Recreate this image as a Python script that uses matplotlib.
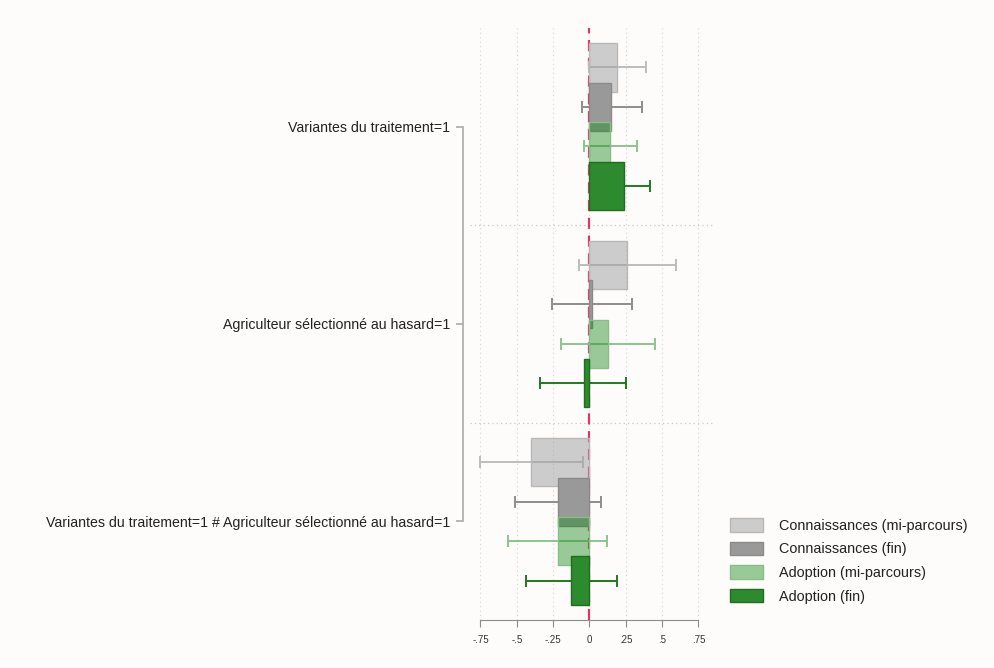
import numpy as np
import matplotlib
matplotlib.use('Agg')
import matplotlib.pyplot as plt
from matplotlib.patches import Patch

plt.rcParams['font.family'] = ['Liberation Sans', 'DejaVu Sans']

categories = ['Variantes du traitement=1',
              'Agriculteur sélectionné au hasard=1',
              'Variantes du traitement=1 # Agriculteur sélectionné au hasard=1']
series = ['Connaissances (mi-parcours)', 'Connaissances (fin)',
          'Adoption (mi-parcours)', 'Adoption (fin)']

# estimates per series, one value per category
est_km = [0.19, 0.257, -0.40]
est_kf = [0.148, 0.015, -0.218]
est_am = [0.14, 0.125, -0.215]
est_af = [0.237, -0.04, -0.127]

lo_km = [-0.005, -0.072, -0.75]
lo_kf = [-0.05, -0.26, -0.51]
lo_am = [-0.04, -0.195, -0.56]
lo_af = [0.055, -0.34, -0.44]

hi_km = [0.39, 0.595, -0.045]
hi_kf = [0.36, 0.29, 0.08]
hi_am = [0.33, 0.45, 0.12]
hi_af = [0.42, 0.25, 0.19]

xticks = [-0.75, -0.5, -0.25, 0, 0.25, 0.5, 0.75]
xticklabels = ['-.75', '-.5', '-.25', '0', '.25', '.5', '.75']

ests = [est_km, est_kf, est_am, est_af]
los = [lo_km, lo_kf, lo_am, lo_af]
his = [hi_km, hi_kf, hi_am, hi_af]

face = [(0.62, 0.62, 0.62, 0.5), (0.60, 0.60, 0.60, 1.0),
        (0.13, 0.55, 0.13, 0.45), (0.18, 0.54, 0.18, 1.0)]
edge = ['#b8b8b8', '#8a8a8a', '#86bf86', '#1f6e1f']
cicol = ['#bdbdbd', '#8e8e8e', '#8cc48c', '#1f7a1f']

bg = '#fefbfb'
fig = plt.figure(figsize=(9.95, 6.68), dpi=100, facecolor=bg)
ax = fig.add_axes([470/995, 48/668, 245/995, 592/668])
ax.set_facecolor(bg)

centers = np.arange(len(categories)) * 5.0
offsets = [-1.5, -0.5, 0.5, 1.5]

for x in xticks:
    ax.axvline(x, color='#d4d4d4', lw=0.8, ls=(0, (1, 3)), zorder=0)
for y in [2.5, 7.5]:
    ax.axhline(y, color='#c8c8c8', lw=0.9, ls=(0, (1, 2.5)), zorder=0)

ax.axvline(0, color='#d43a6e', lw=1.6, ls=(0, (5, 3)), zorder=1)

# confidence intervals sit behind the bars
for i in range(4):
    ys = centers + offsets[i]
    e = np.array(ests[i])
    xerr = [e - np.array(los[i]), np.array(his[i]) - e]
    ax.errorbar(e, ys, xerr=xerr, fmt='none', ecolor=cicol[i],
                elinewidth=1.4, capsize=4, capthick=1.4, zorder=2)

for i in range(4):
    ys = centers + offsets[i]
    ax.barh(ys, ests[i], height=1.22, color=face[i], edgecolor=edge[i],
            linewidth=1.0, zorder=3 + i)

ax.set_xlim(-0.822, 0.864)
ax.set_ylim(12.5, -2.5)

ax.set_xticks(xticks)
ax.set_xticklabels(xticklabels)
ax.set_yticks(centers)
ax.set_yticklabels(categories)

for s in ['top', 'right']:
    ax.spines[s].set_visible(False)
ax.spines['bottom'].set_bounds(-0.75, 0.75)
ax.spines['bottom'].set_color('#8c8c8c')
ax.spines['left'].set_position(('outward', 5))
ax.spines['left'].set_bounds(centers[0], centers[-1])
ax.spines['left'].set_color('#aaaaaa')
ax.spines['left'].set_linewidth(1.2)
ax.tick_params(axis='x', length=5, color='#8c8c8c', pad=6,
               labelsize=7, labelcolor='#333333')
ax.tick_params(axis='y', length=5, color='#aaaaaa', width=1.2, pad=4,
               labelsize=10.2, labelcolor='#222222')

handles = [Patch(facecolor=face[i], edgecolor=edge[i]) for i in range(4)]
fig.legend(handles, series, loc='upper left',
           bbox_to_anchor=(723/995, (668-511)/668), frameon=False,
           fontsize=10.4, handlelength=2.3, handleheight=1.05,
           handletextpad=1.05, labelspacing=0.62, borderpad=0,
           labelcolor='#222222')

fig.savefig('out.png', dpi=100, facecolor=bg)
